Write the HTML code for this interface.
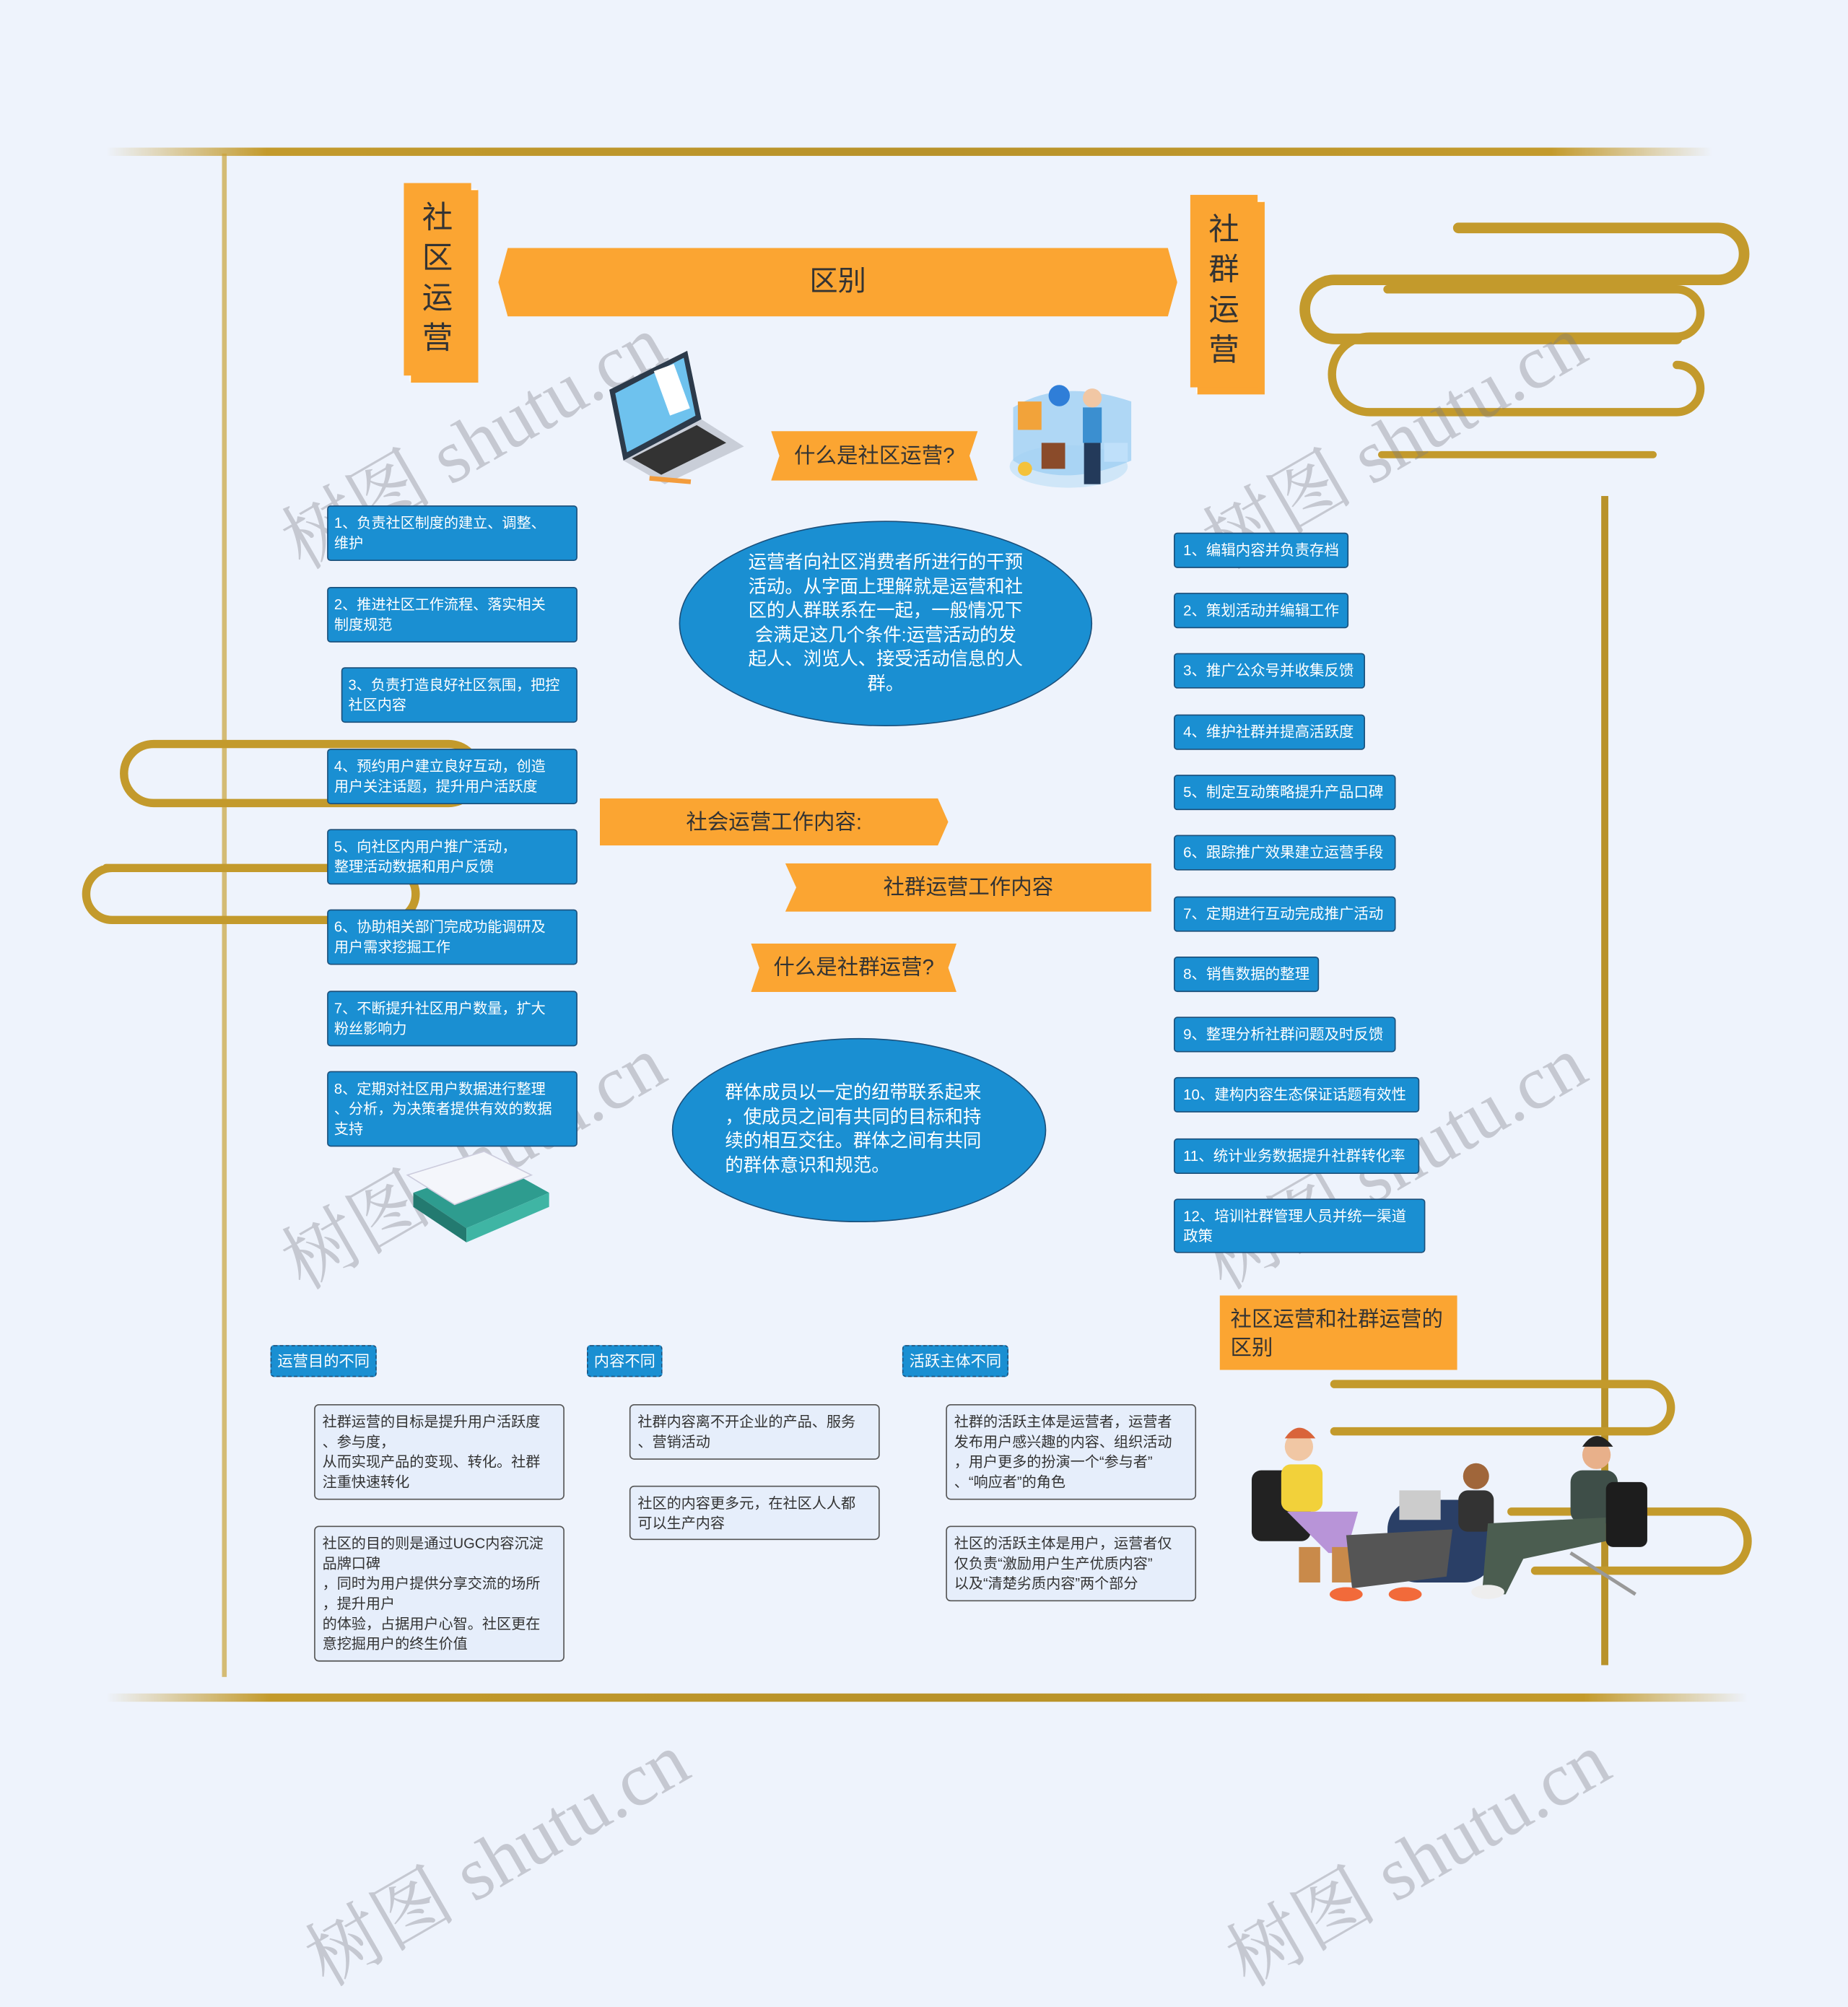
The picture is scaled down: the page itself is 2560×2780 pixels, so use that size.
<!DOCTYPE html>
<html><head><meta charset="utf-8"><style>
html,body{margin:0;padding:0;width:2560px;height:2565px;overflow:hidden;background:#eef3fc}
#s{position:absolute;left:0;top:0;width:1565px;height:1568px;transform:scale(1.6358);transform-origin:0 0;font-family:"Liberation Sans","Noto Sans CJK SC",sans-serif;line-break:anywhere}
.a{position:absolute}
.bl{position:absolute;background:#1a8fd2;border:1px solid #1b4f7a;border-radius:3px;color:#fff;font-size:12.3px;line-height:17px;padding:6px 5px;box-sizing:border-box}
.rb{position:absolute;background:#1a8fd2;border:1px solid #1b4f7a;border-radius:3px;color:#fff;font-size:12.5px;height:30px;line-height:28px;padding:0 7px;box-sizing:border-box;white-space:nowrap}
.card{position:absolute;background:#e6eefb;border:1px solid #555;border-radius:4px;color:#333;font-size:12.3px;line-height:17px;padding:6px 6px;box-sizing:border-box;width:212px}
.tag{position:absolute;background:#1a8fd2;border:1.5px dashed #1b4f7a;border-radius:3px;color:#fff;font-size:13px;height:27px;line-height:25px;padding:0 5px;box-sizing:border-box;white-space:nowrap}
.rib{position:absolute;background:#fba532;color:#333;font-size:18px;text-align:center}
.vert{position:absolute;background:#fba532;color:#333;font-size:26px;text-align:center;line-height:34px;box-shadow:6px 6px 0 #fba532,5px 5px 0 #fff}
.wm{position:absolute;color:rgba(120,120,130,.35);font-family:"Liberation Serif","Noto Serif CJK SC",serif;font-size:64px;transform:rotate(-30deg);transform-origin:0 0;white-space:nowrap}
.gold{position:absolute;background:linear-gradient(90deg,rgba(200,160,40,0),#c39a2c 10%,#b8922a 50%,#c39a2c 90%,rgba(200,160,40,0))}
</style></head><body><div id="s">
<div class="gold" style="left:90px;top:125px;width:1360px;height:7px"></div>
<div class="gold" style="left:90px;top:1434px;width:1390px;height:7px"></div>
<div class="a" style="left:188px;top:130px;width:4px;height:1290px;background:#c9a23a;opacity:.7"></div>
<div class="a" style="left:1356px;top:420px;width:6px;height:990px;background:#b8922a"></div>
<svg class="a" style="left:0;top:0" width="1565" height="1568">
<g fill="none" stroke="#c39a2c" stroke-width="9" stroke-linecap="round">
<path d="M1235 193 H1455 a22 22 0 0 1 0 44 H1130 a25 25 0 0 0 0 50 H1420"/>
<path d="M1175 245 H1420 a20 20 0 0 1 0 40 H1160 a32 32 0 0 0 0 64 H1420 a20 20 0 0 0 0 -40" stroke-width="7"/>
<path d="M1170 385 H1400" stroke-width="6"/>
<path d="M130 630 H380 a25 25 0 0 1 0 50 H130 a25 25 0 0 1 0 -50" stroke-width="7"/>
<path d="M90 735 H330 a22 22 0 0 1 0 44 H95 a22 22 0 0 1 0 -44" stroke-width="7"/>
<path d="M1130 1172 H1395 a20 20 0 0 1 0 40 H1130" stroke-width="7"/>
<path d="M1280 1280 H1455 a25 25 0 0 1 0 50 H1300" stroke-width="7"/>
</g></svg>
<div class="wm" style="left:220px;top:420px">树图 shutu.cn</div>
<div class="wm" style="left:1000px;top:420px">树图 shutu.cn</div>
<div class="wm" style="left:220px;top:1030px">树图 shutu.cn</div>
<div class="wm" style="left:1000px;top:1030px">树图 shutu.cn</div>
<div class="wm" style="left:240px;top:1620px">树图 shutu.cn</div>
<div class="wm" style="left:1020px;top:1620px">树图 shutu.cn</div>
<div class="vert" style="left:342px;top:155px;width:57px;height:163px;padding-top:12px;box-sizing:border-box">社<br>区<br>运<br>营</div>
<div class="vert" style="left:1008px;top:165px;width:57px;height:163px;padding-top:12px;box-sizing:border-box">社<br>群<br>运<br>营</div>
<div class="rib" style="left:422px;top:210px;width:575px;height:58px;line-height:58px;font-size:24px;clip-path:polygon(8px 0,567px 0,575px 29px,567px 58px,8px 58px,0 29px)">区别</div>
<div class="rib" style="left:653px;top:365px;width:175px;height:42px;line-height:42px;clip-path:polygon(0 0,100% 0,96% 50%,100% 100%,0 100%,4% 50%)">什么是社区运营?</div>
<div class="rib" style="left:508px;top:676px;width:295px;height:40px;line-height:40px;clip-path:polygon(0 0,97% 0,100% 50%,97% 100%,0 100%)">社会运营工作内容:</div>
<div class="rib" style="left:665px;top:731px;width:310px;height:41px;line-height:41px;clip-path:polygon(0 0,100% 0,100% 100%,0 100%,3% 50%)">社群运营工作内容</div>
<div class="rib" style="left:636px;top:799px;width:174px;height:41px;line-height:41px;clip-path:polygon(0 0,100% 0,96% 50%,100% 100%,0 100%,4% 50%)">什么是社群运营?</div>
<div class="a" style="left:575px;top:441px;width:350px;height:174px;border-radius:50%;background:#1a8fd2;border:1px solid #1b4f7a;box-sizing:border-box"></div>
<div class="a" style="left:600px;top:467px;width:300px;color:#fff;font-size:15.5px;line-height:20.5px;text-align:center;white-space:nowrap">运营者向社区消费者所进行的干预<br>活动。从字面上理解就是运营和社<br>区的人群联系在一起，一般情况下<br>会满足这几个条件:运营活动的发<br>起人、浏览人、接受活动信息的人<br>群。</div>
<div class="a" style="left:569px;top:879px;width:317px;height:156px;border-radius:50%;background:#1a8fd2;border:1px solid #1b4f7a;box-sizing:border-box"></div>
<div class="a" style="left:614px;top:916px;width:240px;color:#fff;font-size:15.5px;line-height:20.5px;white-space:nowrap">群体成员以一定的纽带联系起来<br>，使成员之间有共同的目标和持<br>续的相互交往。群体之间有共同<br>的群体意识和规范。</div>
<div class="bl" style="left:277px;top:428px;width:212px;height:47px">1、负责社区制度的建立、调整、<br>维护</div>
<div class="bl" style="left:277px;top:497px;width:212px;height:47px">2、推进社区工作流程、落实相关<br>制度规范</div>
<div class="bl" style="left:289px;top:565px;width:200px;height:47px">3、负责打造良好社区氛围，把控<br>社区内容</div>
<div class="bl" style="left:277px;top:634px;width:212px;height:47px">4、预约用户建立良好互动，创造<br>用户关注话题，提升用户活跃度</div>
<div class="bl" style="left:277px;top:702px;width:212px;height:47px">5、向社区内用户推广活动，<br>整理活动数据和用户反馈</div>
<div class="bl" style="left:277px;top:770px;width:212px;height:47px">6、协助相关部门完成功能调研及<br>用户需求挖掘工作</div>
<div class="bl" style="left:277px;top:839px;width:212px;height:47px">7、不断提升社区用户数量，扩大<br>粉丝影响力</div>
<div class="bl" style="left:277px;top:907px;width:212px;height:64px">8、定期对社区用户数据进行整理<br>、分析，为决策者提供有效的数据<br>支持</div>
<div class="rb" style="left:994px;top:451px;width:148px">1、编辑内容并负责存档</div>
<div class="rb" style="left:994px;top:502px;width:148px">2、策划活动并编辑工作</div>
<div class="rb" style="left:994px;top:553px;width:162px">3、推广公众号并收集反馈</div>
<div class="rb" style="left:994px;top:605px;width:162px">4、维护社群并提高活跃度</div>
<div class="rb" style="left:994px;top:656px;width:188px">5、制定互动策略提升产品口碑</div>
<div class="rb" style="left:994px;top:707px;width:188px">6、跟踪推广效果建立运营手段</div>
<div class="rb" style="left:994px;top:759px;width:188px">7、定期进行互动完成推广活动</div>
<div class="rb" style="left:994px;top:810px;width:123px">8、销售数据的整理</div>
<div class="rb" style="left:994px;top:861px;width:188px">9、整理分析社群问题及时反馈</div>
<div class="rb" style="left:994px;top:912px;width:208px">10、建构内容生态保证话题有效性</div>
<div class="rb" style="left:994px;top:964px;width:208px">11、统计业务数据提升社群转化率</div>
<div class="rb" style="left:994px;top:1015px;width:213px;height:46px;line-height:17px;padding-top:6px;white-space:normal">12、培训社群管理人员并统一渠道<br>政策</div>
<div class="a" style="left:1033px;top:1097px;width:201px;height:63px;background:#fba532;color:#333;font-size:18px;line-height:24px;padding:8px 9px;box-sizing:border-box">社区运营和社群运营的<br>区别</div>
<div class="tag" style="left:229px;top:1139px;width:90px">运营目的不同</div>
<div class="tag" style="left:497px;top:1139px;width:64px">内容不同</div>
<div class="tag" style="left:764px;top:1139px;width:90px">活跃主体不同</div>
<div class="card" style="left:266px;top:1189px;height:81px">社群运营的目标是提升用户活跃度<br>、参与度，<br>从而实现产品的变现、转化。社群<br>注重快速转化</div>
<div class="card" style="left:266px;top:1292px;height:115px">社区的目的则是通过UGC内容沉淀<br>品牌口碑<br>，同时为用户提供分享交流的场所<br>，提升用户<br>的体验，占据用户心智。社区更在<br>意挖掘用户的终生价值</div>
<div class="card" style="left:533px;top:1189px;height:47px">社群内容离不开企业的产品、服务<br>、营销活动</div>
<div class="card" style="left:533px;top:1258px;height:46px">社区的内容更多元，在社区人人都<br>可以生产内容</div>
<div class="card" style="left:801px;top:1189px;height:81px">社群的活跃主体是运营者，运营者<br>发布用户感兴趣的内容、组织活动<br>，用户更多的扮演一个“参与者”<br>、“响应者”的角色</div>
<div class="card" style="left:801px;top:1292px;height:64px">社区的活跃主体是用户，运营者仅<br>仅负责“激励用户生产优质内容”<br>以及“清楚劣质内容”两个部分</div>
<svg class="a" style="left:0;top:0" width="1565" height="1568">
<polygon points="516,330 582,297 594,355 528,390" fill="#2c3a4a"/>
<polygon points="521,333 579,303 589,352 531,383" fill="#6ec2ee"/>
<rect x="560" y="310" width="18" height="40" fill="#fff" transform="rotate(-20 569 330)"/>
<polygon points="528,390 594,355 630,378 563,410" fill="#c9ced8"/>
<polygon points="535,388 590,360 615,375 560,402" fill="#333"/>
<line x1="550" y1="405" x2="585" y2="408" stroke="#f39c3c" stroke-width="4"/>
<ellipse cx="905" cy="395" rx="50" ry="18" fill="#cfe6f8"/>
<path d="M858 345 q40 -25 100 -5 v50 q-60 25 -100 0z" fill="#9fd0f2" opacity=".8"/>
<rect x="862" y="340" width="20" height="24" fill="#f2a33a"/>
<rect x="882" y="375" width="20" height="22" fill="#8a4b2a"/>
<circle cx="897" cy="335" r="9" fill="#2f7ed8"/>
<rect x="917" y="345" width="16" height="30" fill="#3b8fd0"/>
<rect x="918" y="375" width="14" height="35" fill="#233a5a"/>
<circle cx="925" cy="337" r="8" fill="#f1c7a4"/>
<circle cx="868" cy="397" r="6" fill="#f4c23a"/>
<rect x="935" y="375" width="20" height="16" fill="#bfe0fa"/>
<polygon points="350,1010 420,985 465,1010 395,1040" fill="#2e9c8f"/>
<polygon points="350,1010 395,1040 395,1052 350,1022" fill="#237a70"/>
<polygon points="395,1040 465,1010 465,1022 395,1052" fill="#3fb5a4"/>
<polygon points="345,995 410,975 450,995 385,1020" fill="#f4f6fb" stroke="#ccd"/>
<rect x="1060" y="1245" width="50" height="60" rx="8" fill="#222"/>
<circle cx="1100" cy="1225" r="12" fill="#f1c7a4"/>
<path d="M1088 1218 q12 -18 26 0" fill="#d9643a"/>
<rect x="1085" y="1240" width="35" height="40" rx="8" fill="#f2d13a"/>
<path d="M1090 1280 l60 0 l-10 35 l-15 0 z" fill="#b894d8"/>
<rect x="1100" y="1310" width="18" height="30" fill="#c98a4a"/>
<rect x="1128" y="1310" width="18" height="30" fill="#c98a4a"/>
<rect x="1175" y="1270" width="90" height="70" rx="25" fill="#2a3f66"/>
<rect x="1185" y="1262" width="35" height="25" fill="#ccc"/>
<circle cx="1250" cy="1250" r="11" fill="#a0663a"/>
<rect x="1235" y="1262" width="30" height="35" rx="8" fill="#333"/>
<path d="M1140 1300 l90 -5 l-5 40 l-80 10z" fill="#555"/>
<ellipse cx="1140" cy="1350" rx="14" ry="6" fill="#f26a3a"/>
<ellipse cx="1190" cy="1350" rx="14" ry="6" fill="#f26a3a"/>
<circle cx="1352" cy="1232" r="12" fill="#e8b08a"/>
<path d="M1340 1225 q12 -18 26 0" fill="#222"/>
<rect x="1330" y="1245" width="40" height="45" rx="10" fill="#3e4e48"/>
<path d="M1260 1290 l100 -5 l0 20 l-70 15 l-15 30 l-20 0z" fill="#4b5d50"/>
<rect x="1360" y="1255" width="35" height="55" rx="6" fill="#1d1d1d"/>
<line x1="1330" y1="1315" x2="1385" y2="1350" stroke="#999" stroke-width="3"/>
<ellipse cx="1260" cy="1348" rx="14" ry="6" fill="#eee"/>
</svg>
</div></body></html>
